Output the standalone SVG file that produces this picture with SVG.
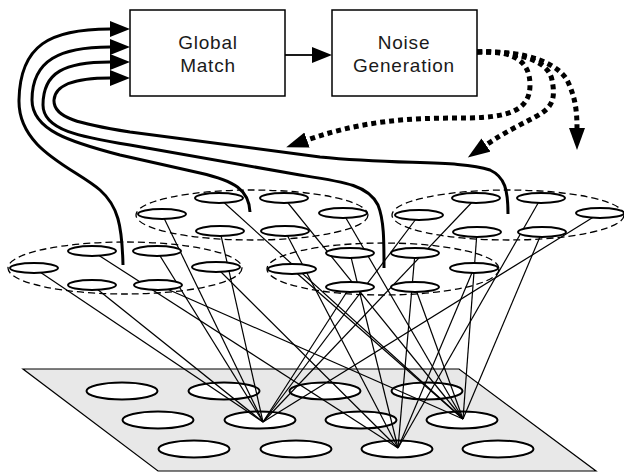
<svg xmlns="http://www.w3.org/2000/svg" width="624" height="473" viewBox="0 0 624 473">
  <defs>
    <style>
      .box { fill: #fff; stroke: #000; stroke-width: 1.5; }
      .lbl { font-family: "Liberation Sans", Arial, sans-serif; font-size: 19px; letter-spacing: 0.8px; fill: #1a1a1a; text-anchor: middle; }
      .plane { fill: #e8e8e8; stroke: #000; stroke-width: 1.2; }
      .pcell { fill: #fff; stroke: #000; stroke-width: 2; }
      .layer { fill: none; stroke: #000; stroke-width: 1.3; stroke-dasharray: 7 4; }
      .unit { fill: #fff; stroke: #000; stroke-width: 2; }
      .wire { stroke: #000; stroke-width: 1.2; fill: none; }
      .fb { fill: none; stroke: #000; stroke-width: 3; }
      .noise { fill: none; stroke: #000; stroke-width: 5; stroke-dasharray: 5 4; }
    </style>
    <marker id="solidHead" markerUnits="userSpaceOnUse" markerWidth="22" markerHeight="18" refX="0" refY="8" orient="auto">
      <path d="M0,0 L20,8 L0,16 Z" fill="#000"/>
    </marker>
    <marker id="noiseHead" markerUnits="userSpaceOnUse" markerWidth="24" markerHeight="18" refX="0" refY="8" orient="auto">
      <path d="M0,0 L22,8 L0,16 Z" fill="#000"/>
    </marker>
  </defs>

  <!-- input plane with receptive cells -->
  <g id="input-plane">
    <polygon class="plane" points="23,369 459,369 596,471 158,471"/>
    <ellipse class="pcell" cx="122" cy="391" rx="35.5" ry="8.5"/>
    <ellipse class="pcell" cx="224" cy="391" rx="35.5" ry="8.5"/>
    <ellipse class="pcell" cx="325" cy="391" rx="35.5" ry="8.5"/>
    <ellipse class="pcell" cx="427" cy="391" rx="35.5" ry="8.5"/>
    <ellipse class="pcell" cx="158" cy="420" rx="35.5" ry="8.5"/>
    <ellipse class="pcell" cx="260" cy="420" rx="35.5" ry="8.5"/>
    <ellipse class="pcell" cx="361" cy="420" rx="35.5" ry="8.5"/>
    <ellipse class="pcell" cx="462" cy="420" rx="35.5" ry="8.5"/>
    <ellipse class="pcell" cx="194" cy="449" rx="35.5" ry="8.5"/>
    <ellipse class="pcell" cx="296" cy="449" rx="35.5" ry="8.5"/>
    <ellipse class="pcell" cx="397" cy="449" rx="35.5" ry="8.5"/>
    <ellipse class="pcell" cx="498" cy="449" rx="35.5" ry="8.5"/>
  </g>

  <!-- connections: units to input points, feedback and noise paths -->
  <g id="connectors">
    <g id="wires">
      <!-- layer A -->
      <line class="wire" x1="34" y1="268" x2="263" y2="422"/>
      <line class="wire" x1="92" y1="285" x2="263" y2="422"/>
      <line class="wire" x1="157" y1="251" x2="263" y2="422"/>
      <line class="wire" x1="92" y1="251" x2="398" y2="448"/>
      <line class="wire" x1="216" y1="267" x2="398" y2="448"/>
      <line class="wire" x1="158" y1="285" x2="463" y2="419"/>
      <!-- layer B -->
      <line class="wire" x1="162" y1="214" x2="263" y2="422"/>
      <line class="wire" x1="220" y1="231" x2="263" y2="422"/>
      <line class="wire" x1="219" y1="198" x2="463" y2="419"/>
      <line class="wire" x1="284" y1="198" x2="463" y2="419"/>
      <line class="wire" x1="285" y1="231" x2="398" y2="448"/>
      <line class="wire" x1="343" y1="213" x2="463" y2="419"/>
      <!-- layer C -->
      <line class="wire" x1="292" y1="269" x2="463" y2="419"/>
      <line class="wire" x1="350" y1="253" x2="398" y2="448"/>
      <line class="wire" x1="350" y1="287" x2="263" y2="422"/>
      <line class="wire" x1="415" y1="253" x2="398" y2="448"/>
      <line class="wire" x1="415" y1="287" x2="463" y2="419"/>
      <line class="wire" x1="474" y1="268" x2="398" y2="448"/>
      <!-- layer D -->
      <line class="wire" x1="476" y1="198" x2="263" y2="422"/>
      <line class="wire" x1="419" y1="215" x2="263" y2="422"/>
      <line class="wire" x1="600" y1="213" x2="263" y2="422"/>
      <line class="wire" x1="541" y1="198" x2="398" y2="448"/>
      <line class="wire" x1="477" y1="232" x2="463" y2="419"/>
      <line class="wire" x1="542" y1="232" x2="463" y2="419"/>
    </g>
  </g>

  <!-- layer A (front left) -->
  <g id="layer-a">
    <ellipse class="layer" cx="125" cy="268" rx="117" ry="26"/>
    <ellipse class="unit" cx="34" cy="268" rx="24" ry="5"/>
    <ellipse class="unit" cx="92" cy="251" rx="24" ry="5"/>
    <ellipse class="unit" cx="157" cy="251" rx="24" ry="5"/>
    <ellipse class="unit" cx="92" cy="285" rx="24" ry="5"/>
    <ellipse class="unit" cx="158" cy="285" rx="24" ry="5"/>
    <ellipse class="unit" cx="216" cy="267" rx="24" ry="5"/>
  </g>
  <!-- layer B (back left) -->
  <g id="layer-b">
    <ellipse class="layer" cx="252" cy="215" rx="116" ry="25"/>
    <ellipse class="unit" cx="162" cy="214" rx="24" ry="5"/>
    <ellipse class="unit" cx="219" cy="198" rx="24" ry="5"/>
    <ellipse class="unit" cx="284" cy="198" rx="24" ry="5"/>
    <ellipse class="unit" cx="220" cy="231" rx="24" ry="5"/>
    <ellipse class="unit" cx="285" cy="231" rx="24" ry="5"/>
    <ellipse class="unit" cx="343" cy="213" rx="24" ry="5"/>
  </g>
  <!-- layer C (front right) -->
  <g id="layer-c">
    <ellipse class="layer" cx="383" cy="269" rx="116" ry="26"/>
    <ellipse class="unit" cx="292" cy="269" rx="24" ry="5"/>
    <ellipse class="unit" cx="350" cy="253" rx="24" ry="5"/>
    <ellipse class="unit" cx="415" cy="253" rx="24" ry="5"/>
    <ellipse class="unit" cx="350" cy="287" rx="24" ry="5"/>
    <ellipse class="unit" cx="415" cy="287" rx="24" ry="5"/>
    <ellipse class="unit" cx="474" cy="268" rx="24" ry="5"/>
  </g>
  <!-- layer D (back right) -->
  <g id="layer-d">
    <ellipse class="layer" cx="508" cy="215" rx="116" ry="25"/>
    <ellipse class="unit" cx="419" cy="215" rx="24" ry="5"/>
    <ellipse class="unit" cx="476" cy="198" rx="24" ry="5"/>
    <ellipse class="unit" cx="541" cy="198" rx="24" ry="5"/>
    <ellipse class="unit" cx="477" cy="232" rx="24" ry="5"/>
    <ellipse class="unit" cx="542" cy="232" rx="24" ry="5"/>
    <ellipse class="unit" cx="600" cy="213" rx="24" ry="5"/>
  </g>

  <!-- feedback from each layer into Global Match, noise back into layers -->
  <g id="feedback">
    <path class="fb" marker-end="url(#solidHead)" d="M123,265 C122,225 118,206 100,190 C75,168 18,150 19,100 C20,45 50,29 110,29"/>
    <path class="fb" marker-end="url(#solidHead)" d="M250,212 C249,190 235,181 200,173 L120,155 C70,142 32,130 32,100 C32,60 60,47 110,47"/>
    <path class="fb" marker-end="url(#solidHead)" d="M384,268 C384,240 384,220 378,205 C368,185 345,182 300,175 L130,145 C80,137 43,130 43,105 C43,72 65,62 110,62"/>
    <path class="fb" marker-end="url(#solidHead)" d="M508,214 C508,190 505,177 490,170 C460,160 400,165 320,157 L130,132 C80,124 53,118 54,100 C55,85 75,78 110,78"/>
    <line class="fb" style="stroke-width:1.8" marker-end="url(#solidHead)" x1="285" y1="55" x2="312" y2="55"/>
    <path class="noise" marker-end="url(#noiseHead)" d="M477,52 C515,50 530,62 530,85 C530,112 505,117 470,118 C420,118 370,118 307,140"/>
    <path class="noise" marker-end="url(#noiseHead)" d="M477,52 C520,52 548,60 552,80 C556,100 552,108 535,117 C520,125 505,132 486,145"/>
    <path class="noise" marker-end="url(#noiseHead)" d="M477,52 C530,50 560,65 568,82 C575,97 577,110 577,128"/>
  </g>

  <g id="global-match">
    <rect class="box" x="130" y="10" width="155" height="86"/>
    <text class="lbl" x="208" y="49">Global</text>
    <text class="lbl" x="208" y="72">Match</text>
  </g>
  <g id="noise-generation">
    <rect class="box" x="332" y="10" width="145" height="86"/>
    <text class="lbl" x="404" y="49">Noise</text>
    <text class="lbl" x="404" y="72">Generation</text>
  </g>
</svg>
